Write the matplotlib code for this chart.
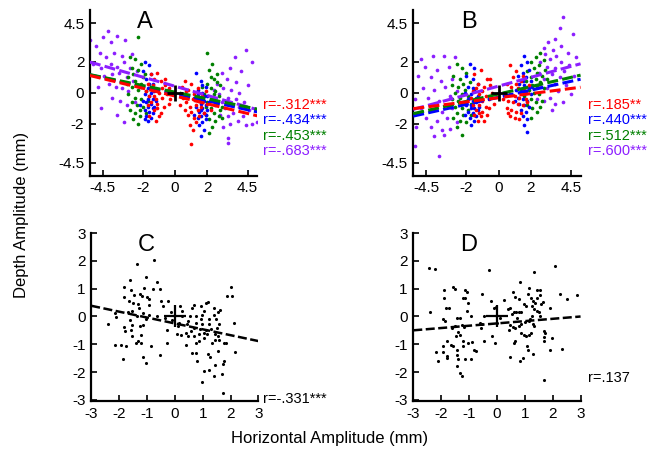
import matplotlib
matplotlib.use("Agg")
import matplotlib.pyplot as plt

plt.rcParams["font.family"] = ["Liberation Sans", "DejaVu Sans"]
plt.rcParams["axes.unicode_minus"] = False

# ---- panel A (negative correlation), per-colour point clouds ----
a_red_x = [-1.7, -1.5, -1.3, -1.1, -0.9, -0.6, -0.4, -1.6, -1.4, -1.2, -1.0, -0.8, -0.5, -1.7, -1.5, -1.3, -1.1, -0.9, -0.7, -1.6,
           -1.2, -1.0, -0.6, -0.3, -1.4, -0.8, -1.8, -1.1, -0.4, -1.3,
           0.4, 0.6, 0.8, 1.0, 1.2, 1.4, 0.5, 0.7, 0.9, 1.1, 1.3, 1.5, 1.7, 0.6, 0.8, 1.0, 1.2, 1.4, 1.6, 1.8,
           0.9, 1.1, 1.3, 1.0, 2.0, 0.3, 1.9, 0.7, 1.5, 2.2]
a_red_y = [0.6, 1.2, 0.9, 1.3, 0.8, 0.5, 0.3, -0.2, 0.2, -0.4, 0.0, -0.3, -0.1, -0.8, -0.6, -1.1, -0.7, -1.3, -0.9, -1.5,
           -1.8, -1.5, 0.9, -0.4, 0.5, 0.3, 0.1, -1.0, -0.7, -0.2,
           0.4, 0.8, 0.2, 0.6, -0.1, 0.3, -0.3, -0.6, -0.9, -0.4, -0.8, -0.5, -0.2, -1.1, -1.4, -1.2, -1.6, -1.1, -0.9, -1.3,
           -2.1, -2.4, -1.9, -3.3, -0.7, -0.8, 0.1, 0.1, -1.5, -1.1]
a_blue_x = [-1.9, -1.6, -2.0, -1.5, -1.8, -1.4, -2.1, -1.7, -1.3, -1.9, -1.6, -1.4, -2.0, -1.8, -1.5, -1.7, -1.3, -1.9, -1.6, -1.4,
            -1.8, -1.5, -1.7, -2.2, -1.2, -1.6, -1.9, -1.4, -1.7, -1.5,
            1.3, 1.6, 1.9, 1.4, 1.7, 2.0, 1.2, 1.5, 1.8, 1.6, 1.9, 1.3, 1.7, 2.0, 1.5, 1.8, 1.6, 1.4, 1.9, 1.7,
            1.5, 1.8, 1.6, 2.1, 1.4, 1.7, 1.2, 1.9, 1.6, 1.8]
a_blue_y = [2.0, 1.8, 1.4, 1.2, 0.9, 0.6, 0.4, 0.3, 0.1, -0.1, -0.2, -0.4, -0.5, -0.6, -0.7, -0.9, -0.9, -1.1, -1.2, -1.3,
            -1.5, -1.6, -1.8, -0.8, -0.5, 0.6, -1.7, -1.0, -0.4, 0.0,
            1.3, 0.8, 0.4, 0.2, 0.0, -0.2, -0.3, -0.4, -0.5, -0.7, -0.8, -0.9, -1.0, -1.1, -1.2, -1.3, -1.5, -1.6, -1.7, -1.9,
            -2.1, -2.4, -2.8, -0.6, -0.1, 0.5, -1.4, -1.4, -1.1, -0.2]
a_green_x = [-2.3, -2.8, -2.5, -2.1, -2.7, -2.3, -1.9, -2.9, -2.5, -2.1, -2.7, -2.3, -1.8, -2.9, -2.5, -2.1, -2.7, -2.4, -2.0, -2.8,
             -2.5, -2.2, -2.6, -2.3, -1.7, -3.0, -2.0, -2.6, -2.2, -1.8,
             2.0, 2.3, 2.1, 2.6, 2.4, 2.0, 2.8, 2.2, 2.5, 1.8, 2.7, 2.3, 2.0, 2.6, 2.9, 2.2, 2.4, 1.9, 2.7, 2.1,
             2.5, 2.9, 2.3, 2.1, 1.7, 2.6, 2.8, 2.4, 1.9, 2.2]
a_green_y = [3.6, 2.3, 2.2, 1.9, 1.6, 1.5, 1.2, 1.0, 0.8, 0.6, 0.4, 0.2, 0.1, -0.1, -0.3, -0.4, -0.6, -0.8, -0.9, -1.1,
             -1.3, -1.5, -1.7, -2.0, -0.5, 0.6, 1.0, 1.2, -1.1, -1.3,
             2.6, 1.9, 1.5, 1.2, 0.9, 0.6, 0.5, 0.3, 0.1, -0.1, -0.2, -0.4, -0.6, -0.7, -0.9, -1.0, -1.3, -1.4, -1.5, -1.7,
             -1.8, -1.6, -2.2, -2.6, 0.4, 0.7, -1.1, -0.1, -0.9, 1.0]
a_purple_x = [-5.3, -4.9, -4.5, -4.2, -4.0, -3.6, -3.1, -4.7, -4.3, -3.8, -3.3, -2.7, -5.1, -4.6, -4.0, -3.6, -3.2, -2.8, -2.4, -4.4,
              -3.9, -3.5, -3.0, -2.6, -4.8, -4.1, -3.7, -3.3, -2.9, -3.9, -3.4, -3.0, -4.6, -3.6, -3.2, -2.5,
              4.4, 3.7, 4.8, 3.4, 4.1, 2.9, 3.2, 3.8, 2.6, 4.5, 3.0, 3.5, 4.0, 2.7, 3.3, 3.8, 4.3, 2.9, 3.5, 4.0,
              3.1, 2.5, 4.6, 3.6, 3.3, 4.2, 2.8, 3.9, 4.8, 5.1, 3.4, 3.0, 4.4, 3.3, 3.3, 2.4]
a_purple_y = [3.4, 3.0, 3.6, 4.0, 3.3, 3.7, 3.4, 2.6, 2.3, 2.6, 2.4, 2.5, 1.9, 1.6, 1.9, 1.7, 2.0, 1.6, 1.4, 1.1,
              1.2, 1.3, 1.0, 0.8, 0.4, 0.6, 0.4, 0.3, 0.1, -0.3, -0.5, -0.8, -1.0, -1.4, -1.9, -0.6,
              2.8, 2.3, 2.0, 1.6, 1.4, 1.3, 0.9, 0.7, 0.6, 0.5, 0.3, 0.2, 0.0, -0.1, -0.3, -0.4, -0.6, -0.6, -0.8, -0.9,
              -1.0, -0.8, -1.1, -1.3, -1.5, -1.5, -1.4, -1.8, -2.0, -1.9, -2.0, -2.2, -2.1, -2.9, -3.2, 0.2]

# ---- panel B (positive correlation) ----
b_red_x = [-1.5, -1.1, -0.7, -1.3, -0.9, -0.5, -1.6, -1.2, -0.8, -0.4, -1.4, -1.0, -0.6, -1.6, -1.2, -0.8, -1.4, -1.0, -0.6, -1.5,
           -1.1, -0.9, -1.3, -0.3, -1.7, -0.5, -1.0, -1.2, -0.7, -1.4,
           0.7, 1.1, 0.9, 1.4, 0.5, 0.8, 1.2, 1.6, 0.4, 0.7, 1.0, 1.3, 1.7, 0.6, 0.9, 1.2, 1.5, 1.8, 0.5, 0.8,
           1.1, 1.4, 0.7, 1.0, 1.3, 1.9, 0.3, 1.5, 1.1, 0.6]
b_red_y = [1.2, 1.5, 0.9, 0.6, 0.4, 0.5, 0.1, -0.1, -0.2, 0.0, -0.4, -0.5, -0.4, -0.8, -0.8, -0.9, -1.1, -1.2, -1.0, -1.4,
           -1.5, -1.8, -1.8, -0.7, -0.3, 0.9, 0.1, -1.3, -1.4, 0.3,
           1.8, 1.4, 1.0, 0.8, 0.6, 0.4, 0.3, 0.2, 0.0, -0.1, -0.2, -0.3, -0.4, -0.5, -0.6, -0.7, -0.8, -0.6, -1.0, -1.1,
           -1.2, -1.3, -1.5, -1.6, -1.7, 0.5, -0.4, 1.1, 0.6, -1.3]
b_blue_x = [-1.8, -1.5, -2.0, -1.6, -1.3, -1.9, -1.5, -2.1, -1.7, -1.3, -1.9, -1.6, -1.4, -2.0, -1.7, -1.5, -1.3, -1.9, -1.6, -1.4,
            -1.8, -1.5, -1.7, -1.2, -2.1, -1.6, -1.8, -1.4, -1.5, -1.7,
            1.6, 1.8, 1.4, 1.9, 1.5, 1.2, 1.7, 2.0, 1.3, 1.6, 1.9, 1.1, 1.4, 1.7, 2.0, 1.2, 1.5, 1.8, 1.3, 1.6,
            1.9, 1.4, 1.7, 1.5, 1.8, 1.6, 1.8, 2.1, 1.5, 1.0]
b_blue_y = [1.9, 1.6, 1.1, 0.9, 0.6, 0.4, 0.2, 0.0, -0.1, -0.2, -0.4, -0.5, -0.6, -0.8, -0.8, -1.0, -1.1, -1.2, -1.3, -1.5,
            -1.6, -1.8, -2.1, -0.9, -1.4, 0.3, -0.3, -0.3, -1.4, -1.0,
            2.4, 2.0, 1.8, 1.5, 1.3, 1.1, 1.0, 0.8, 0.6, 0.5, 0.3, 0.2, 0.1, 0.0, -0.1, -0.3, -0.4, -0.5, -0.7, -0.8,
            -0.9, -1.1, -1.2, -1.5, -1.7, -2.1, -2.5, 0.4, 0.8, -0.5]
b_green_x = [-2.6, -2.3, -2.0, -2.8, -2.4, -1.8, -2.9, -2.5, -2.1, -2.7, -2.3, -1.9, -2.9, -2.5, -2.1, -1.7, -2.7, -2.3, -1.9, -2.6,
             -2.2, -2.8, -2.4, -2.0, -2.6, -2.3, -3.0, -2.2, -1.7, -2.4,
             2.6, 2.3, 2.8, 2.0, 2.5, 2.2, 2.9, 1.8, 2.4, 2.7, 2.0, 2.3, 1.7, 2.6, 2.1, 2.4, 2.8, 1.9, 2.2, 2.5,
             1.6, 2.0, 2.3, 2.7, 1.8, 2.1, 2.4, 2.0, 3.0, 2.6]
b_green_y = [1.9, 1.6, 1.3, 1.1, 0.9, 0.7, 0.5, 0.4, 0.2, 0.0, -0.1, -0.2, -0.4, -0.5, -0.6, -0.7, -0.9, -1.0, -1.1, -1.3,
             -1.4, -1.6, -1.8, -1.9, -2.2, -2.7, -0.9, 0.6, -1.4, -0.3,
             2.6, 2.3, 2.1, 2.0, 1.8, 1.6, 1.5, 1.4, 1.3, 1.1, 1.0, 0.9, 0.8, 0.7, 0.5, 0.4, 0.3, 0.2, 0.0, -0.1,
             -0.2, -0.4, -0.6, -0.5, -0.8, -1.0, -1.2, -1.6, 0.9, -0.9]
b_purple_x = [-4.8, -4.1, -3.4, -2.7, -4.6, -3.8, -3.1, -5.0, -4.2, -3.6, -2.9, -4.7, -4.0, -3.3, -2.6, -5.2, -4.4, -3.7, -3.0, -2.4,
              -4.8, -4.1, -3.5, -2.9, -4.5, -3.8, -3.2, -2.6, -4.2, -3.5, -3.0, -5.1, -4.0, -3.4, -5.2, -3.7,
              4.0, 3.8, 3.5, 4.6, 3.1, 3.9, 2.8, 3.4, 4.3, 2.9, 3.6, 4.8, 3.2, 3.9, 2.6, 4.4, 3.0, 3.5, 4.1, 2.5,
              3.3, 3.8, 4.7, 2.8, 3.5, 4.2, 3.0, 2.6, 3.7, 4.5, 3.2, 2.8, 3.5, 2.4, 4.0, 3.3]
b_purple_y = [2.2, 2.4, 2.4, 2.3, 1.7, 1.5, 1.7, 1.1, 1.0, 0.8, 0.9, 0.3, 0.2, 0.4, 0.1, -0.4, -0.3, -0.5, -0.2, -0.6,
              -1.0, -1.1, -1.2, -1.0, -1.6, -1.8, -1.6, -1.9, -2.2, -2.4, -2.3, -2.2, -2.8, -2.7, -3.4, -4.1,
              4.9, 4.2, 3.5, 3.8, 3.3, 3.0, 2.9, 2.8, 2.6, 2.5, 2.4, 2.3, 2.2, 2.0, 2.0, 1.8, 1.7, 1.6, 1.4, 1.3,
              1.2, 1.0, 1.1, 0.9, 0.6, 0.5, 0.3, 0.5, 0.1, -0.1, -0.3, -0.5, -0.7, -0.4, -0.6, -1.1]

# regression lines (slope, intercept) and r labels
a_fits = {"purple": (-0.295, 0.43), "blue": (-0.23, -0.05), "green": (-0.214, 0.05), "red": (-0.25, -0.2)}
b_fits = {"purple": (0.283, 0.44), "blue": (0.229, -0.28), "green": (0.239, -0.07), "red": (0.133, -0.31)}
a_r_labels = ["r=-.312***", "r=-.434***", "r=-.453***", "r=-.683***"]
b_r_labels = ["r=.185**", "r=.440***", "r=.512***", "r=.600***"]
label_colors = ["red", "blue", "green", "purple"]

# ---- panels C and D (single black cloud) ----
c_x = [-0.73, -1.35, -1.6, -1.84, -1.05, -0.64, -0.53, -0.77, -1.12, -1.57, -1.45, -1.26, -1.19, -0.99, -0.92, -1.81, -1.66, -1.51,
       -1.33, -0.94, -0.48, -0.42, -1.27, -1.52, -1.69, -2.13, -2.12, -2.38, -1.14, -0.91, -0.65, -0.35, -1.02, -1.35, -1.62,
       -1.81, -1.52, -1.26, -1.15, -1.57, -1.78, -1.52, -1.2, -1.33, -1.41, -1.23, -2.14, -1.93, -1.75, -0.87, -1.86, -1.15,
       -1.02, -0.53, -0.27, -0.12, -0.1, 0.19, 0.24, 0.27, 0.15, 0.22, 0.39, 0.42, 0.46, 0.53, 0.6, 0.7, 0.75, 0.77, 0.68,
       0.58, 0.48, 0.7, 0.85, 0.91, 0.97, 0.94, 0.99, 1.06, 1.11, 1.19, 0.94, 1.21, 1.23, 1.28, 1.11, 1.03, 1.16, 1.03, 0.87,
       0.77, 0.75, 0.8, 1.19, 1.26, 1.06, 1.21, 1.4, 0.97, 1.45, 1.54, 1.35, 1.45, 1.57, 1.55, 1.43, 1.51, 1.57, 1.48, 1.39,
       1.55, 1.62, 1.4, 1.75, 1.72, 1.77, 1.69, 1.73, 1.84, 1.87, 2.06, 2.03, 2.12, 2.17, -0.27, 0.07, 0.1, -0.24, 0.39, 0.62]
c_y = [2.02, 1.88, 1.32, 1.07, 1.41, 1.23, 0.98, 0.98, 1.01, 0.95, 0.79, 0.81, 0.74, 0.7, 0.62, 0.69, 0.57, 0.48,
       0.46, 0.42, 0.54, 0.38, 0.3, 0.21, 0.15, 0.11, -0.02, -0.26, 0.12, 0.05, 0.0, -0.07, -0.1, 0.0, -0.14,
       -0.37, -0.31, -0.35, -0.3, -0.47, -0.53, -0.69, -0.65, -0.9, -0.96, -0.94, -1.02, -1.02, -1.06, -1.05, -1.52, -1.46,
       -1.67, -1.37, -0.96, 0.17, -0.12, 0.37, 0.21, 0.02, -0.22, -0.67, -0.59, -0.28, -0.16, 0.02, 0.3, 0.4, 0.02, -0.22, -0.41,
       -0.53, -0.72, -0.72, -0.62, -0.44, -0.28, -0.1, 0.05, 0.21, 0.48, 0.52, 0.37, -0.1, -0.28, -0.44, -0.47, -0.59, -0.64, -0.79, -0.9,
       -0.96, -1.31, -1.6, -1.36, -1.46, -1.95, -1.93, -2.14, -2.35, -1.73, -1.23, -0.96, -0.84, -0.86, -0.72, -0.62, -0.41, -0.28, -0.1, 0.05,
       0.15, 0.25, 0.3, -0.96, -1.7, -1.6, -2.07, -2.75, -0.96, 0.74, 0.74, 1.05, -0.22, -1.27, -0.47, -0.62, -0.35, 0.54, -1.02, -1.31]
d_x = [-2.42, -2.22, -2.4, -1.9, -1.9, -1.84, -1.72, -1.92, -1.88, -1.56, -1.5, -1.16, -1.08, -1.2, -1.14, -1.02, -1.08, -0.94,
       -1.44, -1.34, -1.52, -1.62, -1.26, -1.18, -1.38, -1.32, -1.46, -1.8, -1.66, -1.58, -1.94, -2.18, -1.94, -1.78, -2.1, -1.8,
       -1.42, -1.44, -1.38, -1.42, -1.32, -1.26, -1.22, -1.2, -1.13, -1.02, -0.9, -0.84, -0.94, -0.74, -0.6, -0.53, -0.48, -0.58,
       -0.46, -0.3, -0.54, -0.22, -0.12, -0.02, -0.17, -0.06, 0.0, 0.24, 0.12, 0.38, 0.46, 0.58, 0.66, 0.82, 0.78, 0.54, 0.6,
       0.7, 0.78, 0.86, 0.72, 0.48, 0.58, 0.66, 0.78, 0.86, 0.42, 0.6, 0.66, 0.48, 0.84, 0.94, 0.86, 0.98, 1.06, 1.14, 1.22,
       1.08, 1.1, 1.3, 0.98, 1.06, 1.13, 1.02, 1.15, 1.2, 1.26, 1.3, 1.34, 1.34, 1.14, 1.22, 1.3, 1.26, 1.32, 1.38, 1.44, 1.54,
       1.44, 1.54, 1.58, 1.66, 1.42, 1.5, 1.54, 1.68, 1.74, 1.68, 1.7, 1.9, 1.98, 1.9, 1.68, 2.1, 2.26, 2.5, 2.34, 2.86]
d_y = [1.73, 1.7, 0.17, 0.94, 0.66, 0.29, 0.29, -0.1, -0.18, 1.06, 1.0, 0.96, 0.88, 0.66, 0.66, 0.48, 0.21, 0.02,
       -0.07, -0.07, -0.34, -0.4, -0.32, -0.38, -0.56, -0.65, -0.71, -0.89, -1.01, -1.07, -1.07, -1.29, -1.29, -1.44, -1.62, -1.5,
       -1.2, -1.38, -1.54, -1.8, -2.05, -2.15, -0.89, -1.07, -1.52, -0.95, -0.93, -1.2, -1.54, -1.26, -0.22, -0.28, 0.02, -0.4,
       -0.89, 1.67, 0.82, 0.54, 0.29, 0.33, -0.71, -0.95, -0.22, 0.61, -0.04, 0.27, 0.3, 0.88, 0.7, 1.24, 0.63, 0.09, 0.15,
       0.15, 0.15, 0.17, -0.07, -0.32, -0.37, -0.4, -0.34, -0.28, -0.49, -0.95, -0.87, -1.46, -1.62, -1.5, -0.59, -0.65, -0.71, -0.68, -0.61,
       -1.07, -1.2, -1.35, 0.45, 0.39, 0.82, -0.2, -0.16, -0.1, 0.02, -0.28, -0.34, 1.59, 1.02, 0.66, 0.57, 0.39, 0.27, 0.48, 0.94, 0.96,
       0.66, 0.78, 0.45, 0.51, 0.21, 0.15, 0.02, -0.52, -0.59, -0.89, -0.74, 0.29, -0.77, -1.22, -2.27, 1.83, 0.82, 0.63, -1.17, 0.76]
c_fit = (-0.212, -0.25)
d_fit = (0.083, -0.25)
c_r_label = "r=-.331***"
d_r_label = "r=.137"

colors = {"red": "#ff0000", "blue": "#0000ff", "green": "#008000", "purple": "#8c1eff"}
big_ticks = [-4.5, -2, 0, 2, 4.5]
big_tick_labels = ["-4.5", "-2", "0", "2", "4.5"]
small_ticks = [-3, -2, -1, 0, 1, 2, 3]

fig = plt.figure(figsize=(6.56, 4.59), dpi=100)
ax_a = fig.add_axes([0.137, 0.617, 0.255, 0.361])
ax_b = fig.add_axes([0.630, 0.617, 0.255, 0.361])
ax_c = fig.add_axes([0.139, 0.126, 0.255, 0.366])
ax_d = fig.add_axes([0.630, 0.126, 0.255, 0.366])


def style(ax):
    for side in ("top", "right"):
        ax.spines[side].set_visible(False)
    for side in ("left", "bottom"):
        ax.spines[side].set_linewidth(1.6)
    ax.tick_params(direction="in", length=4, width=1.2, labelsize=11, pad=4)


def dashed(ax, slope, icpt, x0, x1, color, lw=2.2):
    ax.plot([x0, x1], [slope * x0 + icpt, slope * x1 + icpt], color=color, lw=lw,
            ls=(0, (3.6, 1.4)), zorder=3)


for ax, clouds, fits in [
    (ax_a, {"purple": (a_purple_x, a_purple_y), "green": (a_green_x, a_green_y),
            "blue": (a_blue_x, a_blue_y), "red": (a_red_x, a_red_y)}, a_fits),
    (ax_b, {"purple": (b_purple_x, b_purple_y), "green": (b_green_x, b_green_y),
            "blue": (b_blue_x, b_blue_y), "red": (b_red_x, b_red_y)}, b_fits),
]:
    for name, (xs, ys) in clouds.items():
        ax.scatter(xs, ys, s=7, color=colors[name], linewidths=0, zorder=2)
    for name in ("purple", "blue", "green", "red"):
        dashed(ax, *fits[name], -5.3, 5.1, colors[name])
    ax.plot([0], [0], marker="+", color="black", ms=11, mew=2, zorder=4)
    ax.set_xlim(-5.3, 5.1)
    ax.set_ylim(-5.35, 5.35)
    ax.set_xticks(big_ticks, big_tick_labels)
    ax.set_yticks(big_ticks, big_tick_labels)
    style(ax)

for ax, xs, ys, fit in [(ax_c, c_x, c_y, c_fit), (ax_d, d_x, d_y, d_fit)]:
    ax.scatter(xs, ys, s=5, color="black", linewidths=0, zorder=2)
    dashed(ax, *fit, -3, 3, "black", lw=1.8)
    ax.plot([0], [0], marker="+", color="black", ms=16, mew=1.6, zorder=4)
    ax.set_xlim(-3, 3)
    ax.set_ylim(-3.05, 3)
    ax.set_xticks(small_ticks)
    ax.set_yticks(small_ticks)
    style(ax)

for ax, letter in [(ax_a, "A"), (ax_b, "B"), (ax_c, "C"), (ax_d, "D")]:
    ax.text(0.33, 0.93, letter, transform=ax.transAxes, fontsize=17, ha="center", va="center")

W, H = 656, 459
for x0, labels in [(263, a_r_labels), (588, b_r_labels)]:
    for i, (lab, col) in enumerate(zip(labels, label_colors)):
        fig.text(x0 / W, 1 - (105 + 15.5 * i) / H, lab, color=colors[col], fontsize=10.5, va="center")
fig.text(263 / W, 1 - 399 / H, c_r_label, fontsize=10.5, va="center")
fig.text(588 / W, 1 - 378 / H, d_r_label, fontsize=10.5, va="center")

fig.text(22 / W, 1 - 215 / H, "Depth Amplitude (mm)", rotation=90, fontsize=12, ha="center", va="center")
fig.text(330 / W, 1 - 438 / H, "Horizontal Amplitude (mm)", fontsize=12, ha="center", va="center")

fig.savefig("out.png", dpi=100)
